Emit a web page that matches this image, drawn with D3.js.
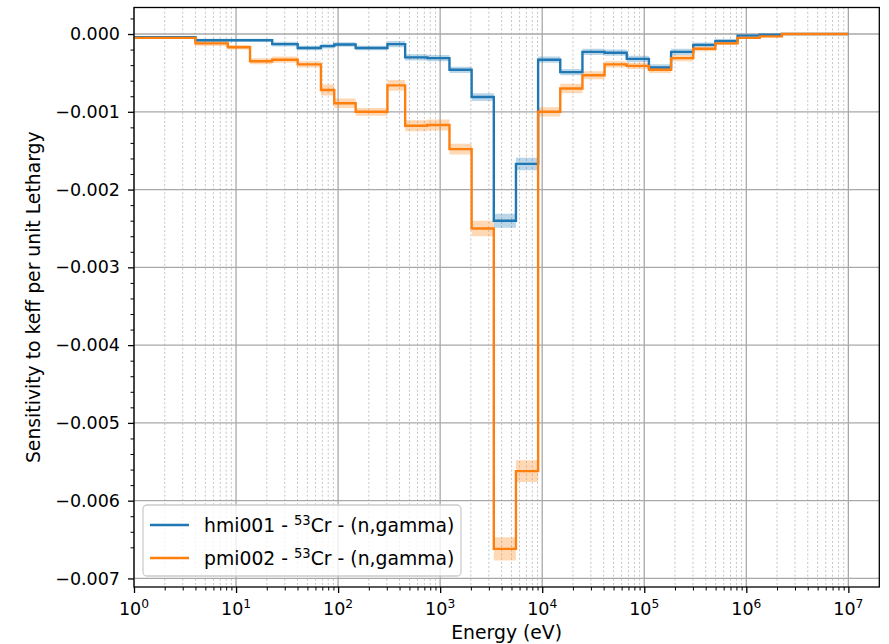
<!DOCTYPE html>
<html>
<head>
<meta charset="utf-8">
<script src="https://cdn.jsdelivr.net/npm/d3@7"></script>
<style>
  html, body { margin: 0; padding: 0; background: #ffffff; }
  svg { display: block; }
  text { font-family: "DejaVu Sans", sans-serif; fill: #000; }
</style>
</head>
<body>
<svg id="chart" width="889" height="644"></svg>
<script>
// ---- data ----
const energyBounds = [1, 4, 8.315, 13.71, 22.6, 40.17, 67.9, 91.66, 148.6, 304.3, 454, 748.5, 1234, 2035, 3355, 5531, 9119, 15030, 24790, 40870, 67380, 111100, 183200, 302000, 497900, 820900, 1353000, 2231000, 3679000, 6065000, 1e7];
const hmiValues = [-0.00004, -0.00008, -0.00008, -0.00008, -0.00013, -0.00018, -0.000155, -0.000135, -0.00018, -0.00013, -0.00030, -0.00031, -0.00046, -0.00081, -0.00240, -0.00167, -0.00033, -0.00049, -0.00023, -0.00024, -0.00032, -0.00043, -0.00023, -0.00014, -0.00009, -0.00002, -0.00001, 0, 0, 0];
const hmiSigma = [0.00001, 0.00002, 0.00002, 0.00002, 0.00003, 0.00003, 0.00003, 0.00003, 0.00003, 0.00004, 0.00004, 0.00004, 0.00004, 0.00005, 0.00009, 0.00008, 0.00004, 0.00004, 0.00004, 0.00004, 0.00004, 0.00004, 0.00004, 0.00003, 0.00002, 0.00001, 0.00001, 0, 0, 0];
const pmiValues = [-0.00005, -0.00012, -0.00017, -0.00035, -0.00033, -0.00039, -0.00072, -0.00089, -0.00100, -0.00066, -0.00118, -0.00117, -0.00148, -0.00250, -0.00662, -0.00562, -0.00100, -0.00070, -0.00053, -0.00039, -0.00041, -0.00046, -0.00031, -0.00019, -0.00012, -0.00005, -0.00003, 0, 0, 0];
const pmiSigma = [0.00001, 0.00003, 0.00003, 0.00004, 0.00004, 0.00004, 0.00007, 0.00006, 0.00005, 0.00007, 0.00007, 0.00007, 0.00007, 0.00010, 0.00015, 0.00014, 0.00006, 0.00006, 0.00005, 0.00004, 0.00004, 0.00004, 0.00004, 0.00003, 0.00002, 0.00001, 0.00001, 0, 0, 0];
const seriesNames = ["hmi001", "pmi002"];
const seriesColors = ["#1f77b4", "#ff7f0e"];
const yTickValues = [0, -0.001, -0.002, -0.003, -0.004, -0.005, -0.006, -0.007];
const xTickExponents = [0, 1, 2, 3, 4, 5, 6, 7];
const xLabel = "Energy (eV)";
const yLabel = "Sensitivity to keff per unit Lethargy";

// ---- layout ----
const svg = d3.select("#chart");
const L = 134, R = 879.3, T = 7.5, B = 587;
const FS = 17.5;   // tick labels
const FL = 18.8;   // axis labels & legend

const x = d3.scaleLog().domain([1, 2.01e7]).range([L, R]);
const y = d3.scaleLinear().domain([-0.00711, 0.000341]).range([B, T]);

svg.append("defs").append("clipPath").attr("id", "clip")
  .append("rect").attr("x", L).attr("y", T).attr("width", R - L).attr("height", B - T);

// minor x grid
const minorX = [];
for (let k = 0; k <= 6; k++) for (let m = 2; m <= 9; m++) minorX.push(m * Math.pow(10, k));
const grid = svg.append("g");
grid.selectAll("line.mx").data(minorX).join("line")
  .attr("x1", d => x(d)).attr("x2", d => x(d)).attr("y1", T).attr("y2", B)
  .attr("stroke", "#c4c4c4").attr("stroke-width", 1).attr("stroke-dasharray", "2,2.2");
grid.selectAll("line.Mx").data(xTickExponents.map(e => Math.pow(10, e))).join("line")
  .attr("x1", d => x(d)).attr("x2", d => x(d)).attr("y1", T).attr("y2", B)
  .attr("stroke", "#a8a8a8").attr("stroke-width", 1.3);
grid.selectAll("line.My").data(yTickValues).join("line")
  .attr("x1", L).attr("x2", R).attr("y1", d => y(d)).attr("y2", d => y(d))
  .attr("stroke", "#a8a8a8").attr("stroke-width", 1.3);

// series
const series = [
  { vals: hmiValues, sig: hmiSigma },
  { vals: pmiValues, sig: pmiSigma }
];
function pts(vals, sig) {
  const p = vals.map((v, i) => ({ e: energyBounds[i], v: v, s: sig[i] }));
  p.push({ e: energyBounds[energyBounds.length - 1], v: vals[vals.length - 1], s: sig[sig.length - 1] });
  return p;
}
const plot = svg.append("g").attr("clip-path", "url(#clip)");
series.forEach((s, i) => {
  const p = pts(s.vals, s.sig);
  const area = d3.area().curve(d3.curveStepAfter)
    .x(d => x(d.e)).y0(d => y(d.v - d.s)).y1(d => y(d.v + d.s));
  plot.append("path").attr("d", area(p)).attr("fill", seriesColors[i]).attr("fill-opacity", 0.3);
});
series.forEach((s, i) => {
  const p = pts(s.vals, s.sig);
  const line = d3.line().curve(d3.curveStepAfter).x(d => x(d.e)).y(d => y(d.v));
  plot.append("path").attr("d", line(p)).attr("fill", "none")
    .attr("stroke", seriesColors[i]).attr("stroke-width", 2.4);
});

// axes
const xAxis = d3.axisBottom(x).tickValues(xTickExponents.map(e => Math.pow(10, e)))
  .tickSize(6).tickFormat("");
const gx = svg.append("g").attr("transform", `translate(0,${B})`).call(xAxis);
gx.select(".domain").remove();
gx.selectAll(".tick line").attr("stroke", "#000").attr("stroke-width", 1.3);
const xMinorAxis = d3.axisBottom(x).tickValues(minorX).tickSize(3.5).tickFormat("");
const gxm = svg.append("g").attr("transform", `translate(0,${B})`).call(xMinorAxis);
gxm.select(".domain").remove();
gxm.selectAll(".tick line").attr("stroke", "#000").attr("stroke-width", 1);

const xl = svg.append("g");
xTickExponents.forEach(e => {
  const t = xl.append("text").attr("x", x(Math.pow(10, e))).attr("y", 615)
    .attr("text-anchor", "middle").style("font-size", FS + "px");
  t.append("tspan").text("10");
  t.append("tspan").attr("dy", -7).style("font-size", (FS * 0.7) + "px").text(String(e));
});

const fmt = d3.format(".3f");
const yAxis = d3.axisLeft(y).tickValues(yTickValues).tickSize(6).tickPadding(8)
  .tickFormat(d => fmt(d));
const gy = svg.append("g").attr("transform", `translate(${L},0)`).call(yAxis);
gy.select(".domain").remove();
gy.selectAll(".tick line").attr("stroke", "#000").attr("stroke-width", 1.3);
gy.selectAll(".tick text").style("font-size", FS + "px").style("font-family", "DejaVu Sans, sans-serif").attr("fill", "#000");
const minorY = d3.range(1, 36).map(i => +(0.0004 - i * 0.0002).toFixed(4))
  .filter(v => v <= 0.000341 && v >= -0.00711 && !yTickValues.some(t => Math.abs(t - v) < 1e-9));
const gym = svg.append("g").attr("transform", `translate(${L},0)`)
  .call(d3.axisLeft(y).tickValues(minorY).tickSize(3.5).tickFormat(""));
gym.select(".domain").remove();
gym.selectAll(".tick line").attr("stroke", "#000").attr("stroke-width", 1);

// frame
svg.append("rect").attr("x", L).attr("y", T).attr("width", R - L).attr("height", B - T)
  .attr("fill", "none").attr("stroke", "#000").attr("stroke-width", 1.3);

// labels
svg.append("text").attr("x", (L + R) / 2).attr("y", 639).attr("text-anchor", "middle")
  .style("font-size", FL + "px").text(xLabel);
svg.append("text").attr("transform", `translate(40,${(T + B) / 2}) rotate(-90)`)
  .attr("text-anchor", "middle").style("font-size", FL + "px").text(yLabel);

// legend
const lg = svg.append("g");
lg.append("rect").attr("x", 143).attr("y", 505).attr("width", 318).attr("height", 71)
  .attr("rx", 4).attr("fill", "#fff").attr("fill-opacity", 0.8)
  .attr("stroke", "#cccccc").attr("stroke-width", 1.3);
seriesNames.forEach((n, i) => {
  const yy = 525 + i * 33;
  lg.append("line").attr("x1", 150).attr("x2", 189).attr("y1", yy).attr("y2", yy)
    .attr("stroke", seriesColors[i]).attr("stroke-width", 2.4);
  const t = lg.append("text").attr("x", 204).attr("y", yy + 7).style("font-size", FL + "px");
  t.append("tspan").text(n + " - ");
  t.append("tspan").attr("dy", -7.5).style("font-size", (FL * 0.7) + "px").text("53");
  t.append("tspan").attr("dy", 7.5).text("Cr - (n,gamma)");
});
</script>
</body>
</html>
